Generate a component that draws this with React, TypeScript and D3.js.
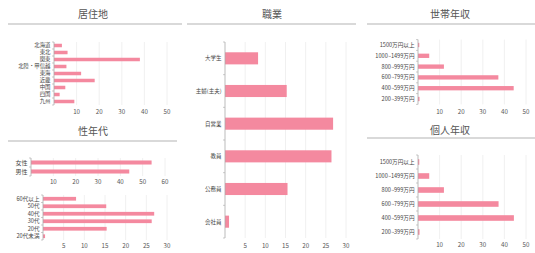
import * as d3 from 'd3';

// 居住地
const regionCats = ['北海道', '東北', '関東', '北陸・甲信越', '東海', '近畿', '中国', '四国', '九州'];
const regionVals = [3.5, 6, 38, 5.5, 12, 18, 5, 2.5, 9];
const regionTicks = [10, 20, 30, 40, 50];

// 性年代
const genderCats = ['女性', '男性'];
const genderVals = [54, 44];
const genderTicks = [10, 20, 30, 40, 50, 60];

const ageCats = ['60代以上', '50代', '40代', '30代', '20代', '20代未満'];
const ageVals = [8, 15.3, 26.9, 26.3, 15.4, 0.5];
const ageTicks = [5, 10, 15, 20, 25, 30];

// 職業
const jobCats = ['大学生', '主婦(主夫)', '自営業', '教員', '公務員', '会社員'];
const jobVals = [8.2, 15.3, 26.8, 26.4, 15.5, 1];
const jobTicks = [5, 10, 15, 20, 25, 30];

// 世帯年収 / 個人年収
const incomeCats = ['1500万円以上', '1000~1499万円', '800~999万円', '600~799万円', '400~599万円', '200~399万円'];
const householdVals = [0.6, 5.2, 12, 37.2, 44.3, 0.7];
const personalVals = [0.6, 5.2, 12, 37.3, 44.4, 0.7];
const incomeTicks = [10, 20, 30, 40, 50];

const PINK = '#f4899f';
const FONT = '"Noto Sans CJK JP", "Noto Sans", sans-serif';

type BarProps = {
	cats: string[];
	vals: number[];
	ticks: number[];
	x0: number;
	x1: number;
	top: number;
	bottom: number;
	padding: number;
	labelY: number;
	fontSize?: number;
};

function HBar({ cats, vals, ticks, x0, x1, top, bottom, padding, labelY, fontSize = 6 }: BarProps) {
	const x = d3.scaleLinear().domain([0, ticks[ticks.length - 1]]).range([x0, x1]);
	const y = d3.scaleBand().domain(cats).range([top, bottom]).paddingInner(padding).paddingOuter(padding / 2);
	const step = y.step();
	return (
		<g fontFamily={FONT}>
			{/* grid */}
			{ticks.map((t) => (
				<line key={t} x1={x(t)} x2={x(t)} y1={top} y2={bottom} stroke='#ececec' strokeWidth={0.8} />
			))}
			{/* bars */}
			{cats.map((c, i) => (
				<rect key={c} x={x(0)} y={y(c)} width={x(vals[i]) - x(0)} height={y.bandwidth()} fill={PINK} />
			))}
			{/* y axis */}
			<line x1={x0} x2={x0} y1={top} y2={bottom} stroke='#aaa' strokeWidth={0.8} />
			{d3.range(cats.length + 1).map((i) => (
				<line key={i} x1={x0 - 2} x2={x0} y1={top + i * step} y2={top + i * step} stroke='#aaa' strokeWidth={0.6} />
			))}
			{cats.map((c) => (
				<text key={c} x={x0 - 3.5} y={(y(c) ?? 0) + y.bandwidth() / 2} dy='0.35em' textAnchor='end' fontSize={fontSize} fill='#444'>
					{c}
				</text>
			))}
			{ticks.map((t) => (
				<text key={t} x={x(t)} y={labelY} textAnchor='middle' fontSize={6.2} fill='#555'>
					{t}
				</text>
			))}
		</g>
	);
}

function Title({ text, cx, cy, x1, x2, ry }: { text: string; cx: number; cy: number; x1: number; x2: number; ry: number }) {
	return (
		<g>
			<text x={cx} y={cy} textAnchor='middle' fontSize={10} fill='#555' fontFamily={FONT}>
				{text}
			</text>
			<line x1={x1} x2={x2} y1={ry} y2={ry} stroke='#ccc' strokeWidth={1.5} />
		</g>
	);
}

export default function App() {
	return (
		<svg width={535} height={253} style={{ position: 'absolute', left: 0, top: 0, background: '#fff' }}>
			<Title text='居住地' cx={93} cy={18} x1={8} x2={182} ry={24} />
			<HBar cats={regionCats} vals={regionVals} ticks={regionTicks} x0={54} x1={167} top={42} bottom={105} padding={0.5} labelY={114} fontSize={5.4} />

			<Title text='性年代' cx={93} cy={135} x1={8} x2={177} ry={141} />
			<HBar cats={genderCats} vals={genderVals} ticks={genderTicks} x0={31} x1={165} top={158} bottom={176} padding={0.55} labelY={184} />
			<HBar cats={ageCats} vals={ageVals} ticks={ageTicks} x0={43} x1={167} top={195} bottom={240} padding={0.5} labelY={248} fontSize={5.6} />

			<Title text='職業' cx={272} cy={18} x1={187} x2={356} ry={24} />
			<HBar cats={jobCats} vals={jobVals} ticks={jobTicks} x0={225} x1={346} top={42} bottom={238} padding={0.63} labelY={248} fontSize={5.5} />

			<Title text='世帯年収' cx={450} cy={18} x1={367} x2={535} ry={24} />
			<HBar cats={incomeCats} vals={householdVals} ticks={incomeTicks} x0={418} x1={526} top={39.6} bottom={104.4} padding={0.6} labelY={114} fontSize={5.6} />

			<Title text='個人年収' cx={450} cy={134} x1={367} x2={535} ry={138} />
			<HBar cats={incomeCats} vals={personalVals} ticks={incomeTicks} x0={418} x1={526} top={155} bottom={239} padding={0.6} labelY={247} fontSize={5.6} />
		</svg>
	);
}
